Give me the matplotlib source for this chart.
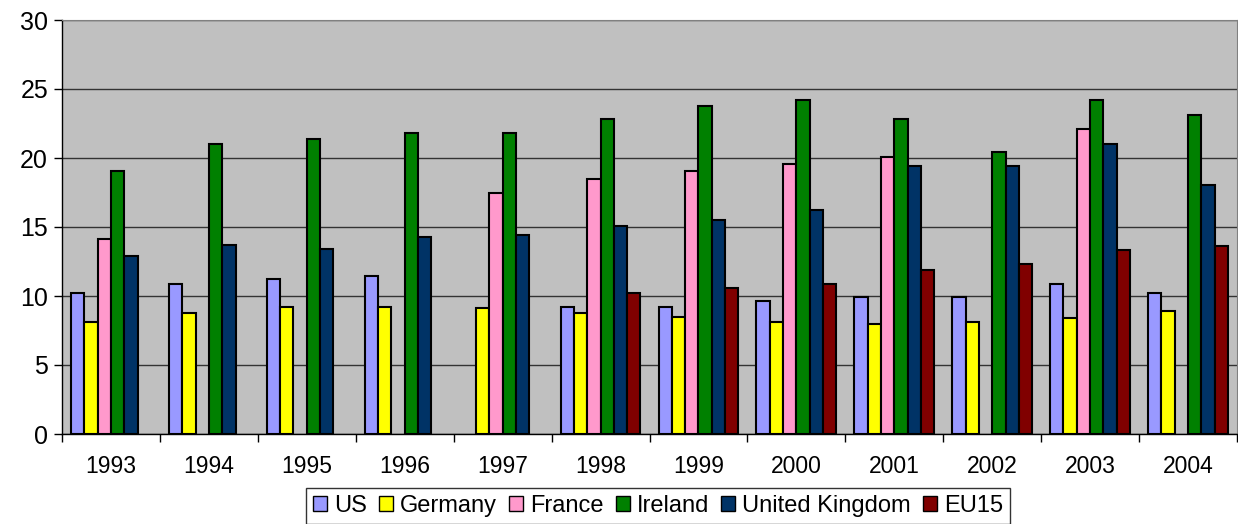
import numpy as np
import matplotlib.pyplot as plt
from matplotlib.patches import Patch

plt.rcParams['font.family'] = ['Liberation Sans', 'DejaVu Sans']

# data
years = ["1993", "1994", "1995", "1996", "1997", "1998", "1999", "2000", "2001", "2002", "2003", "2004"]
nan = np.nan
us = [10.2, 10.9, 11.2, 11.45, nan, 9.2, 9.2, 9.65, 9.9, 9.9, 10.9, 10.2]
germany = [8.1, 8.8, 9.2, 9.2, 9.1, 8.8, 8.5, 8.1, 7.95, 8.1, 8.4, 8.9]
france = [14.1, nan, nan, nan, 17.5, 18.5, 19.05, 19.6, 20.1, nan, 22.1, nan]
ireland = [19.05, 21.0, 21.4, 21.8, 21.8, 22.8, 23.8, 24.2, 22.8, 20.45, 24.2, 23.1]
uk = [12.9, 13.7, 13.4, 14.3, 14.4, 15.1, 15.5, 16.2, 19.45, 19.45, 21.0, 18.05]
eu15 = [nan, nan, nan, nan, nan, 10.2, 10.6, 10.9, 11.9, 12.3, 13.3, 13.6]

series = [("US", us, "#9999FF"), ("Germany", germany, "#FFFF00"),
          ("France", france, "#FF99CC"), ("Ireland", ireland, "#008000"),
          ("United Kingdom", uk, "#003366"), ("EU15", eu15, "#800000")]

fig = plt.figure(figsize=(12.38, 5.24), dpi=100)
ax = fig.add_axes([62 / 1238, 1 - 434 / 524, 1 - 62 / 1238 - 1 / 1238, (434 - 20) / 524])
ax.set_facecolor("#C0C0C0")

x = np.arange(len(years))
w = 0.136
for i, (name, vals, col) in enumerate(series):
    ax.bar(x + (i - 2.5) * w, vals, w, color=col, edgecolor="black", linewidth=1.5, zorder=3)

ax.set_xlim(-0.5, len(years) - 0.5)
ax.set_ylim(0, 30)
ax.set_yticks(range(0, 31, 5))
ax.set_xticks(x)
ax.set_xticklabels(years)
ax.set_xticks(np.arange(-0.5, len(years)), minor=True)
ax.tick_params(axis="x", which="major", length=0, pad=15, labelsize=16.5)
ax.tick_params(axis="x", which="minor", length=6, width=1, direction="out")
ax.tick_params(axis="y", length=6, width=1, direction="out", labelsize=18, pad=4)
ax.grid(axis="y", color="#333333", linewidth=1, zorder=1)
ax.set_axisbelow(True)
for s in ["top", "right"]:
    ax.spines[s].set_color("#808080")
for s in ["left", "bottom"]:
    ax.spines[s].set_color("black")
    ax.spines[s].set_linewidth(1)

handles = [Patch(facecolor=c, edgecolor="black", linewidth=1, label=n) for n, v, c in series]
leg = fig.legend(handles=handles, loc="center", bbox_to_anchor=(658 / 1238, 1 - 506 / 524),
                 ncol=6, fontsize=17, frameon=True, fancybox=False, edgecolor="black",
                 handlelength=0.6, handleheight=0.6, handletextpad=0.3, columnspacing=0.5,
                 borderpad=0.3)
leg.get_frame().set_linewidth(1)

fig.savefig("out.png", dpi=100)
